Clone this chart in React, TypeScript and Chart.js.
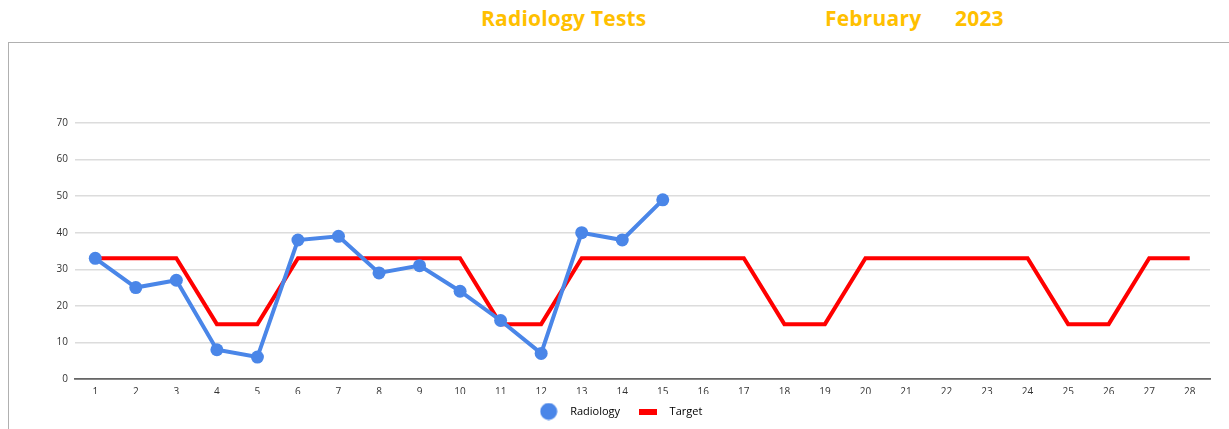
import React, { useEffect, useRef } from "react";
import { Chart, registerables } from "chart.js";

Chart.register(...registerables);

const days = Array.from({ length: 28 }, (_, i) => String(i + 1));
const radiology: (number | null)[] = [33, 25, 27, 8, 6, 38, 39, 29, 31, 24, 16, 7, 40, 38, 49, null, null, null, null, null, null, null, null, null, null, null, null, null];
const target: number[] = [33, 33, 33, 15, 15, 33, 33, 33, 33, 33, 15, 15, 33, 33, 33, 33, 33, 15, 15, 33, 33, 33, 33, 33, 15, 15, 33, 33];
const yTicks = [0, 10, 20, 30, 40, 50, 60, 70];

const BLUE = "#4a86e8";
const RED = "#ff0000";

function makeMarker(kind: "circle" | "bar", color: string): HTMLCanvasElement {
  const c = document.createElement("canvas");
  if (kind === "circle") {
    c.width = 18; c.height = 18;
    const ctx = c.getContext("2d")!;
    ctx.fillStyle = color;
    ctx.beginPath();
    ctx.arc(9, 9, 8.5, 0, Math.PI * 2);
    ctx.fill();
  } else {
    c.width = 18; c.height = 6;
    const ctx = c.getContext("2d")!;
    ctx.fillStyle = color;
    ctx.fillRect(0, 0, 18, 6);
  }
  return c;
}

export default function App() {
  const ref = useRef<HTMLCanvasElement | null>(null);
  useEffect(() => {
    document.body.style.margin = "0";
    const circ = makeMarker("circle", BLUE);
    const bar = makeMarker("bar", RED);
    const chart = new Chart(ref.current!, {
      type: "line",
      data: {
        labels: days,
        datasets: [
          {
            label: "Radiology",
            data: radiology,
            borderColor: BLUE,
            backgroundColor: BLUE,
            borderWidth: 4,
            pointRadius: 6.5,
            pointBackgroundColor: BLUE,
            pointBorderWidth: 0,
            spanGaps: false,
            order: 0,
          },
          {
            label: "Target",
            data: target,
            borderColor: RED,
            backgroundColor: RED,
            borderWidth: 4,
            pointRadius: 0,
            order: 1,
          },
        ],
      },
      options: {
        animation: false,
        responsive: false,
        layout: { padding: { top: 79, right: 19, left: 16, bottom: 2 } },
        plugins: {
          title: { display: false },
          tooltip: { enabled: false },
          legend: {
            position: "bottom",
            labels: {
              usePointStyle: true,
              pointStyleWidth: 32,
              color: "#555",
              font: { family: "Open Sans", size: 11 },
              padding: 12,
              generateLabels: (ch: any) =>
                ch.data.datasets.map((ds: any, i: number) => ({
                  text: ds.label,
                  fillStyle: ds.borderColor,
                  strokeStyle: ds.borderColor,
                  lineWidth: 0,
                  pointStyle: i === 0 ? circ : bar,
                  datasetIndex: i,
                  hidden: false,
                })),
            },
          },
        },
        scales: {
          x: {
            offset: true,
            afterFit: (s: any) => { s.height = 15; },
            grid: { display: false, drawTicks: false },
            border: { display: true, color: "#666", width: 1.8 },
            ticks: { color: "#333", font: { family: "Open Sans", size: 10 }, padding: 7, maxRotation: 0, autoSkip: false },
          },
          y: {
            min: 0,
            max: 70,
            afterFit: (s: any) => { s.width = 50; },
            afterBuildTicks: (s: any) => { s.ticks = yTicks.map((v) => ({ value: v })); },
            grid: { color: "#dcdcdc", lineWidth: 1.5, drawTicks: false },
            border: { display: false },
            ticks: { color: "#333", font: { family: "Open Sans", size: 10 }, padding: 7 },
          },
        },
      },
    } as any);
    return () => chart.destroy();
  }, []);

  const titleStyle: React.CSSProperties = {
    position: "absolute",
    top: 4,
    color: "#FFC000",
    fontFamily: "'Open Sans', sans-serif",
    fontWeight: 700,
    fontSize: 21,
    whiteSpace: "pre",
    letterSpacing: 0.2,
  };

  return (
    <div style={{ position: "relative", width: 1229, height: 429, background: "#fff", overflow: "hidden" }}>
      <div style={{ ...titleStyle, left: 481 }}>Radiology Tests</div>
      <div style={{ ...titleStyle, left: 825 }}>February</div>
      <div style={{ ...titleStyle, left: 955 }}>2023</div>
      <div style={{ position: "absolute", left: 8, top: 42, width: 1221, height: 387, borderTop: "1.5px solid #b0b0b0", borderLeft: "1.5px solid #b0b0b0", boxSizing: "border-box" }} />
      <canvas ref={ref} width={1220} height={385} style={{ position: "absolute", left: 9, top: 44, display: "block" }} />
    </div>
  );
}
